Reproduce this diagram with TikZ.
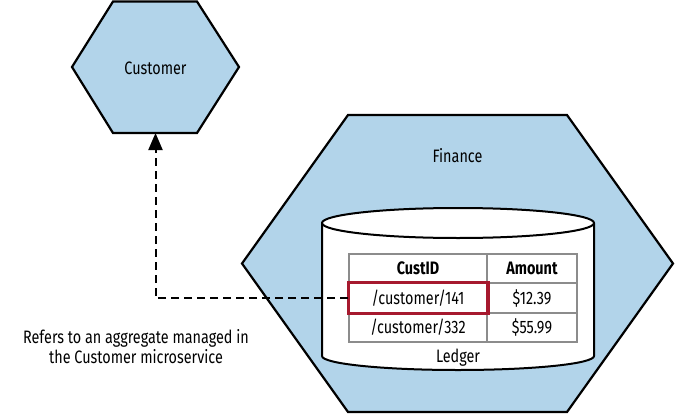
\documentclass[tikz,border=0pt]{standalone}
\usepackage{fontspec}
\setmainfont[FakeStretch=0.8]{Fira Sans}
\usetikzlibrary{arrows.meta}
\definecolor{hexblue}{RGB}{178,212,234}
\definecolor{gridgray}{RGB}{140,140,140}
\definecolor{refred}{RGB}{166,25,46}
\begin{document}
\begin{tikzpicture}[x=1pt,y=-1pt,
  hexa/.style={draw=black,line width=2.2pt,fill=hexblue,line join=miter},
  lbl/.style={font=\fontsize{18}{20}\selectfont,inner sep=0pt},
  cell/.style={draw=gridgray,line width=1.6pt,minimum height=29.5pt,inner sep=0pt,font=\fontsize{18}{20}\selectfont},
  ccol1/.style={cell,minimum width=138pt},
  ccol2/.style={cell,minimum width=90pt},
  refarrow/.style={line width=2pt,dash pattern=on 8pt off 5pt,-{Triangle[length=17pt,width=14pt]}}]
\useasboundingbox (0,0) rectangle (675,415);
% Customer hexagon
\draw[hexa] (113,1.5) -- (197,1.5) -- (239,67) -- (197,133) -- (113,133) -- (72,67) -- cycle;
\node[lbl] (customer) at (155.5,68) {Customer};
\coordinate (custbot) at (155.5,133);
% Finance hexagon
\draw[hexa] (348,115) -- (567,115) -- (673,263.5) -- (567,412) -- (348,412) -- (242,263.5) -- cycle;
\node[lbl] (finance) at (457.5,156) {Finance};
% Ledger cylinder
\draw[line width=2pt,fill=white] (322,223) -- (322,356) arc[start angle=180,end angle=0,x radius=136,y radius=14] -- (594,223) arc[start angle=0,end angle=-180,x radius=136,y radius=15] -- cycle;
\draw[line width=2pt] (322,223) arc[start angle=180,end angle=0,x radius=136,y radius=15];
\node[lbl] (ledger) at (458,358) {Ledger};
% Table
\node[ccol1,font=\fontsize{18}{20}\selectfont\bfseries] (h1) at (418,268.5) {CustID};
\node[ccol2,font=\fontsize{18}{20}\selectfont\bfseries] (h2) at (532,268.5) {Amount};
\node[ccol1] (c141) at (418,298) {/customer/141};
\node[ccol2] (a141) at (532,298) {\$12.39};
\node[ccol1] (c332) at (418,327.5) {/customer/332};
\node[ccol2] (a332) at (532,327.5) {\$55.99};
\draw[refred,line width=3.4pt] (c141.south west) rectangle (c141.north east);
% Reference connector
\draw[refarrow] (c141.west) -| (custbot);
% Annotation
\node[lbl,align=center] (note) at (136,346.5) {Refers to an aggregate managed in\\the Customer microservice};
\end{tikzpicture}
\end{document}
